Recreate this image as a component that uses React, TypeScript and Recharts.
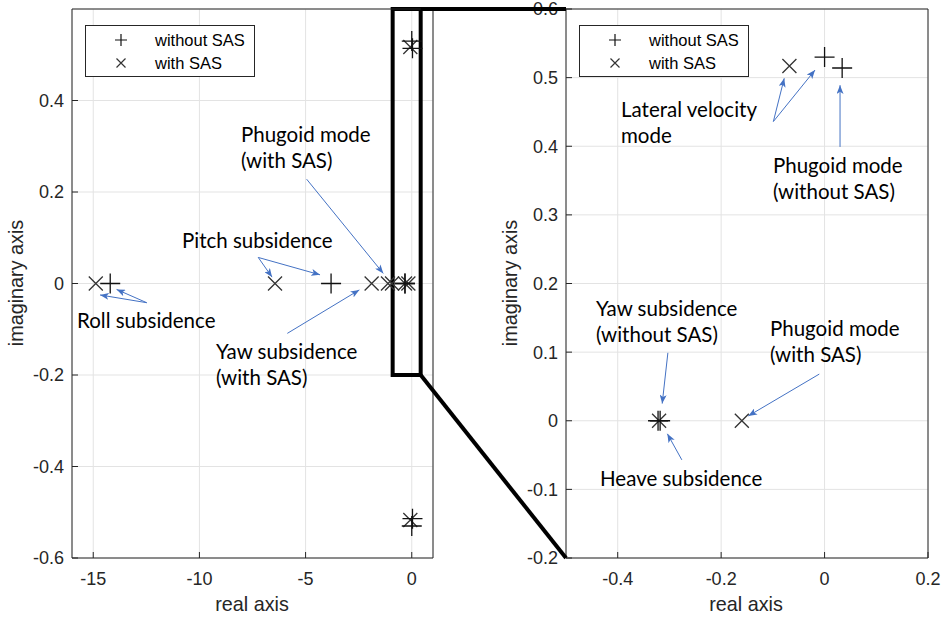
import React from 'react';
import {
  ScatterChart,
  Scatter,
  XAxis,
  YAxis,
  CartesianGrid,
  ReferenceLine,
  ReferenceArea,
} from 'recharts';

// ---------- data (poles) ----------
const withoutSASReal = [-14.2, -3.8, -0.322, -0.318, 0, 0, 0.034, 0.034];
const withoutSASImag = [0, 0, 0, 0, 0.53, -0.53, 0.514, -0.514];
const withSASReal = [-14.88, -6.44, -1.89, -1.12, -0.93, -0.32, -0.16, -0.068, -0.068];
const withSASImag = [0, 0, 0, 0, 0, 0, 0, 0.517, -0.517];

const leftXTicks = [-15, -10, -5, 0];
const leftYTicks = [-0.6, -0.4, -0.2, 0, 0.2, 0.4];
const rightXTicks = [-0.4, -0.2, 0, 0.2];
const rightYTicks = [-0.2, -0.1, 0, 0.1, 0.2, 0.3, 0.4, 0.5, 0.6];

const leftXDomain: [number, number] = [-16, 1];
const leftYDomain: [number, number] = [-0.6, 0.6];
const rightXDomain: [number, number] = [-0.5, 0.2];
const rightYDomain: [number, number] = [-0.2, 0.6];

const zoomBox = { x1: -0.9, x2: 0.42, y1: -0.2, y2: 0.6 };

type Arrow = { from: [number, number]; to: [number, number] };
const leftArrows: Arrow[] = [
  { from: [-7.23, 0.057], to: [-6.58, 0.014] },
  { from: [-7.23, 0.057], to: [-4.32, 0.019] },
  { from: [-4.95, 0.228], to: [-1.34, 0.022] },
  { from: [-12.48, -0.042], to: [-14.68, -0.025] },
  { from: [-12.48, -0.042], to: [-13.9, -0.013] },
  { from: [-5.86, -0.109], to: [-2.47, -0.014] },
];
const rightArrows: Arrow[] = [
  { from: [-0.099, 0.436], to: [-0.078, 0.499] },
  { from: [-0.099, 0.436], to: [-0.0185, 0.511] },
  { from: [0.0299, 0.399], to: [0.0299, 0.489] },
  { from: [-0.303, 0.099], to: [-0.314, 0.025] },
  { from: [-0.276, -0.057], to: [-0.304, -0.019] },
  { from: [-0.0102, 0.068], to: [-0.1475, 0.007] },
];

const legendLabels = ['without SAS', 'with SAS'];

// ---------- layout ----------
const W = 948;
const H = 617;
const PLOT_TOP = 9;
const PLOT_BOTTOM = 558;
const L = { chartLeft: 0, chartWidth: 450, plotLeft: 72, plotRight: 433 };
const R = { chartLeft: 450, chartWidth: 498, plotLeft: 566, plotRight: 928 };

const AXIS_COLOR = '#262626';
const GRID_COLOR = '#e3e3e3';
const ARROW_COLOR = '#4472c4';
const TICK_FONT = "'Liberation Sans', Arial, sans-serif";
const NOTE_FONT = "Lato, 'Noto Sans', sans-serif";

const buildPoints = (re: number[], im: number[], xd: number[], yd: number[]) =>
  re
    .map((r, i) => ({ re: r, im: im[i] }))
    .filter((p) => p.re >= xd[0] && p.re <= xd[1] && p.im >= yd[0] && p.im <= yd[1]);

const PlusShape = (props: any) => {
  const { cx, cy } = props;
  if (cx == null || cy == null) return <g />;
  const s = 10;
  return (
    <path
      d={`M${cx - s},${cy}H${cx + s}M${cx},${cy - s}V${cy + s}`}
      stroke="#111"
      strokeWidth={1.3}
      fill="none"
    />
  );
};

const CrossShape = (props: any) => {
  const { cx, cy } = props;
  if (cx == null || cy == null) return <g />;
  const s = 7;
  return (
    <path
      d={`M${cx - s},${cy - s}L${cx + s},${cy + s}M${cx - s},${cy + s}L${cx + s},${cy - s}`}
      stroke="#333"
      strokeWidth={1.3}
      fill="none"
    />
  );
};

type PanelProps = {
  cfg: typeof L;
  xDomain: [number, number];
  yDomain: [number, number];
  xTicks: number[];
  yTicks: number[];
  arrows: Arrow[];
  showZoomBox: boolean;
};

const AX = 1; // axis thickness reserved in the layout

const Panel = ({ cfg, xDomain, yDomain, xTicks, yTicks, arrows, showZoomBox }: PanelProps) => {
  const margin = {
    top: PLOT_TOP - AX,
    bottom: H - PLOT_BOTTOM - AX,
    left: cfg.plotLeft - cfg.chartLeft - AX,
    right: cfg.chartLeft + cfg.chartWidth - cfg.plotRight - AX,
  };
  const without = buildPoints(withoutSASReal, withoutSASImag, xDomain, yDomain);
  const withS = buildPoints(withSASReal, withSASImag, xDomain, yDomain);
  const tickStyle = { fontSize: 18, fontFamily: TICK_FONT, fill: AXIS_COLOR };
  return (
    <div style={{ position: 'absolute', left: cfg.chartLeft, top: 0 }}>
      <ScatterChart width={cfg.chartWidth} height={H} margin={margin}>
        <CartesianGrid stroke={GRID_COLOR} strokeWidth={1} />
        <XAxis
          type="number"
          dataKey="re"
          domain={xDomain}
          ticks={xTicks}
          allowDataOverflow
          interval={0}
          height={AX}
          tickSize={-6}
          tickMargin={20}
          tick={tickStyle}
          axisLine={{ stroke: AXIS_COLOR }}
          tickLine={{ stroke: AXIS_COLOR }}
        />
        <XAxis
          xAxisId="top"
          orientation="top"
          type="number"
          domain={xDomain}
          ticks={xTicks}
          allowDataOverflow
          interval={0}
          height={AX}
          tickSize={-6}
          tick={false}
          axisLine={{ stroke: AXIS_COLOR }}
          tickLine={{ stroke: AXIS_COLOR }}
        />
        <YAxis
          type="number"
          dataKey="im"
          domain={yDomain}
          ticks={yTicks}
          allowDataOverflow
          interval={0}
          width={AX}
          tickSize={-6}
          tickMargin={14}
          tick={tickStyle}
          axisLine={{ stroke: AXIS_COLOR }}
          tickLine={{ stroke: AXIS_COLOR }}
        />
        <YAxis
          yAxisId="right"
          orientation="right"
          type="number"
          domain={yDomain}
          ticks={yTicks}
          allowDataOverflow
          interval={0}
          width={AX}
          tickSize={-6}
          tick={false}
          axisLine={{ stroke: AXIS_COLOR }}
          tickLine={{ stroke: AXIS_COLOR }}
        />
        <Scatter data={withS} shape={CrossShape} isAnimationActive={false} />
        <Scatter data={without} shape={PlusShape} isAnimationActive={false} />
        {arrows.map((a, i) => (
          <ReferenceLine
            key={i}
            segment={[
              { x: a.from[0], y: a.from[1] },
              { x: a.to[0], y: a.to[1] },
            ]}
            stroke={ARROW_COLOR}
            strokeWidth={1}
            markerEnd="url(#arrowHead)"
            ifOverflow="visible"
          />
        ))}
        {showZoomBox && (
          <ReferenceArea
            x1={zoomBox.x1}
            x2={zoomBox.x2}
            y1={zoomBox.y1}
            y2={zoomBox.y2}
            stroke="#000"
            strokeWidth={4}
            fill="none"
            fillOpacity={0}
            ifOverflow="visible"
          />
        )}
      </ScatterChart>
    </div>
  );
};

// linear maps mirroring the charts' axes (used for decorations only)
const lx = (x: number) => L.plotLeft + ((x - leftXDomain[0]) / (leftXDomain[1] - leftXDomain[0])) * (L.plotRight - L.plotLeft);
const ly = (y: number) => PLOT_TOP + ((leftYDomain[1] - y) / (leftYDomain[1] - leftYDomain[0])) * (PLOT_BOTTOM - PLOT_TOP);
const rx = (x: number) => R.plotLeft + ((x - rightXDomain[0]) / (rightXDomain[1] - rightXDomain[0])) * (R.plotRight - R.plotLeft);
const ry = (y: number) => PLOT_TOP + ((rightYDomain[1] - y) / (rightYDomain[1] - rightYDomain[0])) * (PLOT_BOTTOM - PLOT_TOP);

const Legend = ({ x, y }: { x: number; y: number }) => (
  <g>
    <rect x={x + 0.5} y={y + 0.5} width={169} height={51} fill="#fff" stroke={AXIS_COLOR} strokeWidth={1} />
    <path
      d={`M${x + 30},${y + 15}h12M${x + 36},${y + 9}v12`}
      stroke="#111"
      strokeWidth={1.2}
    />
    <path
      d={`M${x + 31.5},${y + 33.5}l9,9M${x + 31.5},${y + 42.5}l9,-9`}
      stroke="#333"
      strokeWidth={1.2}
    />
    <text x={x + 70} y={y + 15} dominantBaseline="central" fontSize={16.5} fontFamily={TICK_FONT} fill="#000">
      {legendLabels[0]}
    </text>
    <text x={x + 70} y={y + 38} dominantBaseline="central" fontSize={16.5} fontFamily={TICK_FONT} fill="#000">
      {legendLabels[1]}
    </text>
  </g>
);

const Note = ({ x, y, lines }: { x: number; y: number; lines: string[] }) => (
  <text x={x} y={y} fontSize={20.5} fontFamily={NOTE_FONT} fill="#000">
    {lines.map((t, i) => (
      <tspan key={i} x={x} dy={i === 0 ? 0 : 26}>
        {t}
      </tspan>
    ))}
  </text>
);

export default function App() {
  return (
    <div style={{ position: 'absolute', left: 0, top: 0, width: W, height: H, background: '#fff' }}>
      <Panel
        cfg={L}
        xDomain={leftXDomain}
        yDomain={leftYDomain}
        xTicks={leftXTicks}
        yTicks={leftYTicks}
        arrows={leftArrows}
        showZoomBox
      />
      <Panel
        cfg={R}
        xDomain={rightXDomain}
        yDomain={rightYDomain}
        xTicks={rightXTicks}
        yTicks={rightYTicks}
        arrows={rightArrows}
        showZoomBox={false}
      />
      <svg
        width={W}
        height={H}
        style={{ position: 'absolute', left: 0, top: 0, pointerEvents: 'none' }}
      >
        <defs>
          <marker
            id="arrowHead"
            viewBox="0 0 10 8"
            refX={10}
            refY={4}
            markerWidth={9}
            markerHeight={7}
            markerUnits="userSpaceOnUse"
            orient="auto"
          >
            <path d="M0,0L10,4L0,8L2.5,4Z" fill={ARROW_COLOR} />
          </marker>
        </defs>

        {/* zoom connectors */}
        <line x1={lx(zoomBox.x2)} y1={ly(zoomBox.y2)} x2={rx(rightXDomain[0])} y2={ry(zoomBox.y2)} stroke="#000" strokeWidth={4} />
        <line x1={lx(zoomBox.x2)} y1={ly(zoomBox.y1)} x2={rx(rightXDomain[0])} y2={ry(rightYDomain[0])} stroke="#000" strokeWidth={4} />

        <Legend x={85} y={25} />
        <Legend x={579} y={25} />

        {/* axis titles */}
        <text x={252} y={604} textAnchor="middle" dominantBaseline="central" fontSize={19.8} fontFamily={TICK_FONT} fill={AXIS_COLOR}>
          real axis
        </text>
        <text x={746} y={604} textAnchor="middle" dominantBaseline="central" fontSize={19.8} fontFamily={TICK_FONT} fill={AXIS_COLOR}>
          real axis
        </text>
        <text
          x={16}
          y={283}
          transform="rotate(-90 16 283)"
          textAnchor="middle"
          dominantBaseline="central"
          fontSize={19.8}
          fontFamily={TICK_FONT}
          fill={AXIS_COLOR}
        >
          imaginary axis
        </text>
        <text
          x={510}
          y={283}
          transform="rotate(-90 510 283)"
          textAnchor="middle"
          dominantBaseline="central"
          fontSize={19.8}
          fontFamily={TICK_FONT}
          fill={AXIS_COLOR}
        >
          imaginary axis
        </text>

        {/* annotations */}
        <Note x={241} y={142} lines={['Phugoid mode', '(with SAS)']} />
        <Note x={182} y={248} lines={['Pitch subsidence']} />
        <Note x={77} y={328} lines={['Roll subsidence']} />
        <Note x={216} y={359} lines={['Yaw subsidence', '(with SAS)']} />
        <Note x={621} y={117} lines={['Lateral velocity', 'mode']} />
        <Note x={773} y={173} lines={['Phugoid mode', '(without SAS)']} />
        <Note x={596} y={316} lines={['Yaw subsidence', '(without SAS)']} />
        <Note x={770} y={336} lines={['Phugoid mode', '(with SAS)']} />
        <Note x={600} y={486} lines={['Heave subsidence']} />
      </svg>
    </div>
  );
}
